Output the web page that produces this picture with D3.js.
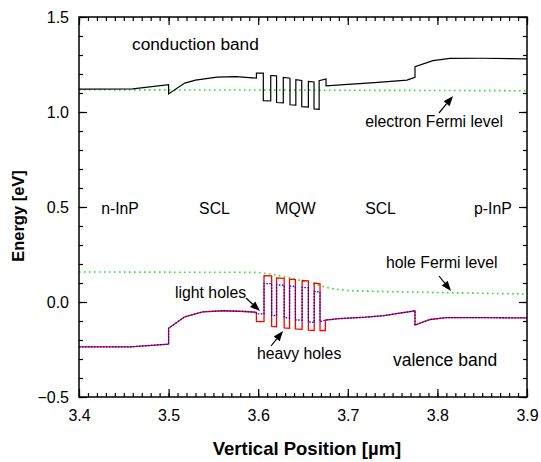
<!DOCTYPE html>
<html><head><meta charset="utf-8">
<script src="https://d3js.org/d3.v7.min.js"></script>
<style>body{margin:0;background:#fff}svg{display:block}text{font-family:"Liberation Sans",Arial,sans-serif}</style>
</head><body><svg id="c" width="541" height="462"></svg>
<script>
// ---- data ----
const xTicks = [3.4, 3.5, 3.6, 3.7, 3.8, 3.9];
const yTicks = [-0.5, 0.0, 0.5, 1.0, 1.5];
const cbX = [3.400,3.460,3.500,3.500,3.518,3.530,3.554,3.575,3.598,3.598,3.6057,3.6057,3.614,3.614,3.6205,3.6205,3.628,3.628,3.6355,3.6355,3.642,3.642,3.6486,3.6486,3.656,3.656,3.6623,3.6623,3.668,3.668,3.6757,3.6757,3.700,3.730,3.766,3.775,3.775,3.795,3.814,3.850,3.900];
const cbE = [1.120,1.122,1.144,1.095,1.152,1.168,1.184,1.186,1.178,1.205,1.205,1.060,1.058,1.192,1.190,1.050,1.048,1.182,1.178,1.038,1.036,1.170,1.166,1.028,1.026,1.161,1.158,1.016,1.014,1.165,1.174,1.138,1.145,1.155,1.168,1.183,1.238,1.270,1.282,1.283,1.280];
const hhX = [3.400,3.457,3.500,3.500,3.518,3.538,3.561,3.585,3.598,3.598,3.6065,3.6065,3.615,3.615,3.6205,3.6205,3.629,3.629,3.635,3.635,3.6415,3.6415,3.649,3.649,3.656,3.656,3.6625,3.6625,3.669,3.669,3.675,3.675,3.690,3.720,3.740,3.775,3.775,3.792,3.810,3.850,3.900];
const hhE = [-0.236,-0.236,-0.222,-0.138,-0.078,-0.052,-0.046,-0.050,-0.054,-0.103,-0.103,0.139,0.137,-0.128,-0.130,0.127,0.125,-0.136,-0.138,0.120,0.118,-0.142,-0.144,0.113,0.111,-0.148,-0.150,0.100,0.096,-0.150,-0.150,-0.095,-0.088,-0.080,-0.072,-0.046,-0.121,-0.092,-0.082,-0.082,-0.084];
const lhX = [3.400,3.457,3.500,3.500,3.518,3.538,3.561,3.585,3.598,3.598,3.6065,3.6065,3.615,3.615,3.6205,3.6205,3.629,3.629,3.635,3.635,3.6415,3.6415,3.649,3.649,3.656,3.656,3.6625,3.6625,3.669,3.669,3.675,3.690,3.720,3.740,3.775,3.775,3.792,3.810,3.850,3.900];
const lhE = [-0.236,-0.236,-0.222,-0.138,-0.078,-0.052,-0.046,-0.050,-0.054,-0.063,-0.063,0.098,0.096,-0.070,-0.072,0.090,0.088,-0.082,-0.084,0.084,0.082,-0.094,-0.096,0.077,0.075,-0.105,-0.107,0.056,0.052,-0.104,-0.095,-0.088,-0.080,-0.072,-0.046,-0.121,-0.092,-0.082,-0.082,-0.084];
const efnX = [3.40, 3.65, 3.90];
const efnE = [1.117, 1.115, 1.112];
const efpX = [3.40, 3.60, 3.62, 3.64, 3.66, 3.68, 3.70, 3.75, 3.80, 3.90];
const efpE = [0.158, 0.156, 0.142, 0.122, 0.098, 0.072, 0.060, 0.054, 0.050, 0.042];
const regionLabels = ["n-InP", "SCL", "MQW", "SCL", "p-InP"];
const regionX = [3.4458, 3.5512, 3.6416, 3.7365, 3.8620];

// ---- chart ----
const svg = d3.select("#c");
const L = 79, R = 527, T = 17, B = 397;
const x = d3.scaleLinear().domain([3.4, 3.9]).range([L, R]);
const y = d3.scaleLinear().domain([-0.5, 1.5]).range([B, T]);
const tickFont = "16px", annFont = "15.8px";

function axes() {
  const minorX = d3.range(3.4, 3.9001, 0.01);
  const minorY = d3.range(-0.5, 1.5001, 0.1);
  const g = svg.append("g");
  const mk = (axis, tr) => {
    const a = g.append("g").attr("transform", tr).call(axis);
    a.select(".domain").remove();
    a.selectAll("line").attr("stroke", "#000").attr("stroke-width", 1.2);
    a.selectAll("text").style("font-size", tickFont).attr("fill", "#000");
    return a;
  };
  mk(d3.axisBottom(x).tickValues(minorX).tickSize(-4).tickFormat(""), `translate(0,${B})`);
  mk(d3.axisBottom(x).tickValues(xTicks).tickSize(-8).tickPadding(13).tickFormat(d3.format(".1f")), `translate(0,${B})`);
  mk(d3.axisTop(x).tickValues(minorX).tickSize(-4).tickFormat(""), `translate(0,${T})`);
  mk(d3.axisTop(x).tickValues(xTicks).tickSize(-8).tickFormat(""), `translate(0,${T})`);
  mk(d3.axisLeft(y).tickValues(minorY).tickSize(-4).tickFormat(""), `translate(${L},0)`);
  mk(d3.axisLeft(y).tickValues(yTicks).tickSize(-8).tickPadding(10).tickFormat(d3.format(".1f")), `translate(${L},0)`);
  mk(d3.axisRight(y).tickValues(minorY).tickSize(-4).tickFormat(""), `translate(${R},0)`);
  mk(d3.axisRight(y).tickValues(yTicks).tickSize(-8).tickFormat(""), `translate(${R},0)`);
  g.append("rect").attr("x", L).attr("y", T).attr("width", R - L).attr("height", B - T)
    .attr("fill", "none").attr("stroke", "#000").attr("stroke-width", 1.5);
}

const line = d3.line().x(d => x(d[0])).y(d => y(d[1]));
const zipd = (a, b) => a.map((v, i) => [v, b[i]]);
const plot = svg.append("g");
plot.append("path").datum(zipd(efnX, efnE)).attr("d", line).attr("fill", "none")
  .attr("stroke", "#22e622").attr("stroke-width", 1.6).attr("stroke-dasharray", "1.6,3.4");
plot.append("path").datum(zipd(efpX, efpE)).attr("d", line).attr("fill", "none")
  .attr("stroke", "#22e622").attr("stroke-width", 1.6).attr("stroke-dasharray", "1.6,3.4");
plot.append("path").datum(zipd(cbX, cbE)).attr("d", line).attr("fill", "none")
  .attr("stroke", "#000").attr("stroke-width", 1.2);
plot.append("path").datum(zipd(hhX, hhE)).attr("d", line).attr("fill", "none")
  .attr("stroke", "#ff0000").attr("stroke-width", 1.3);
plot.append("path").datum(zipd(lhX, lhE)).attr("d", line).attr("fill", "none")
  .attr("stroke", "#0000ff").attr("stroke-width", 1.3).attr("stroke-dasharray", "1.5,1.5");
axes();

// ---- annotations ----
function txt(s, px, py, anchor, size) {
  svg.append("text").attr("x", px).attr("y", py).attr("text-anchor", anchor || "start")
    .style("font-size", size || annFont).attr("fill", "#000").text(s);
}
function arrow(x1, y1, x2, y2) {
  const ang = Math.atan2(y2 - y1, x2 - x1), hl = 10, hw = 3.8;
  const bx = x2 - hl * Math.cos(ang), by = y2 - hl * Math.sin(ang);
  svg.append("line").attr("x1", x1).attr("y1", y1).attr("x2", bx).attr("y2", by)
    .attr("stroke", "#000").attr("stroke-width", 1.2);
  const px = -Math.sin(ang) * hw, py = Math.cos(ang) * hw;
  svg.append("path").attr("d", `M${x2},${y2}L${bx + px},${by + py}L${bx - px},${by - py}Z`).attr("fill", "#000");
}
txt("conduction band", 132, 50, "start", "17.3px");
txt("electron Fermi level", 503, 127, "end");
arrow(439, 113, 453, 96);
regionLabels.forEach((s, i) => txt(s, x(regionX[i]), 214, "middle"));
txt("hole Fermi level", 386, 268);
arrow(439, 276, 451, 291);
txt("light holes", 175, 298);
arrow(246, 298, 260, 311);
txt("heavy holes", 257, 359);
arrow(271, 346, 283, 331);
txt("valence band", 393, 366, "start", "17.5px");

svg.append("text").attr("transform", "translate(24,216) rotate(-90)").attr("text-anchor", "middle")
  .style("font-size", "16.5px").style("font-weight", "bold").text("Energy [eV]");
svg.append("text").attr("x", 307).attr("y", 455).attr("text-anchor", "middle")
  .style("font-size", "18.5px").style("font-weight", "bold").text("Vertical Position [µm]");
</script></body></html>
